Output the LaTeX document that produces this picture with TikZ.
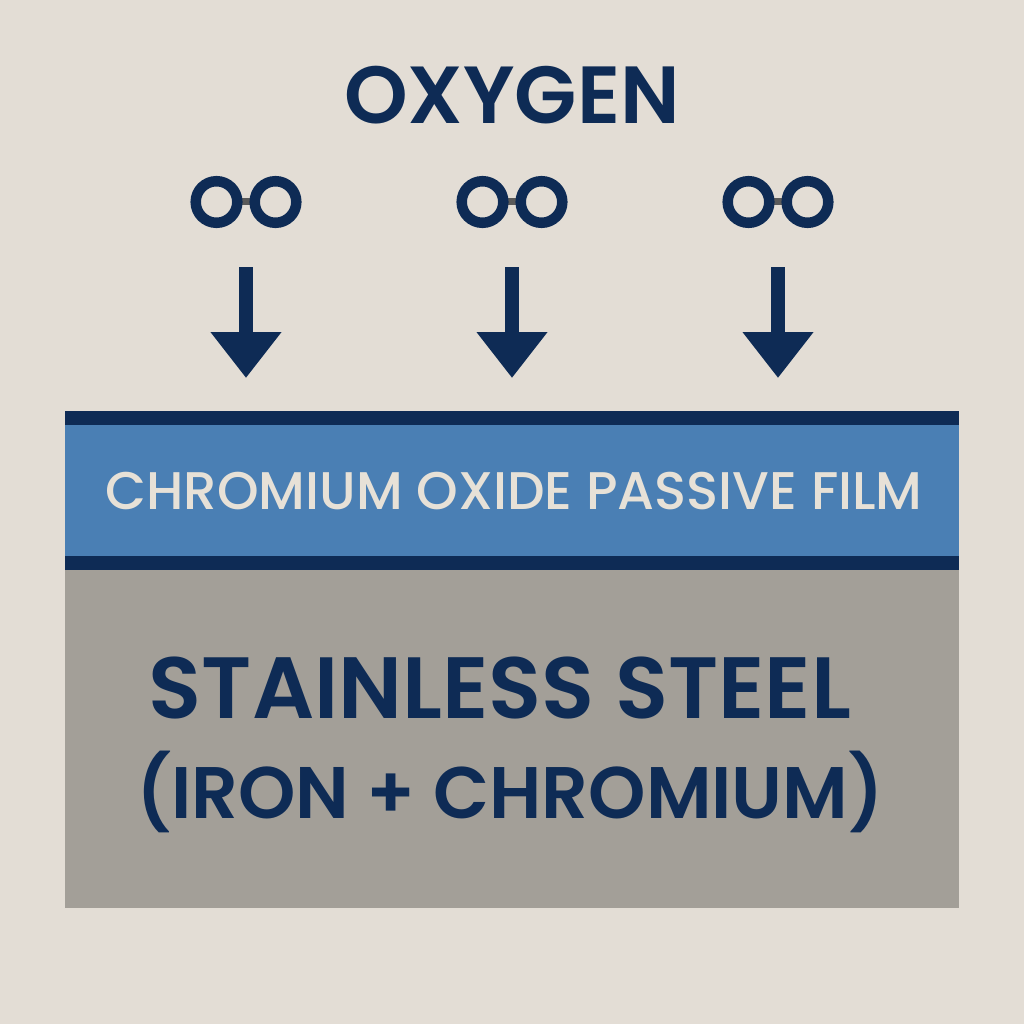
\documentclass[tikz,border=0pt]{standalone}
\usepackage{fontspec}
\setmainfont{Poppins}[BoldFont={* SemiBold}]
\newfontfamily\filmfont{Poppins Medium}
\usetikzlibrary{arrows.meta,positioning}
\definecolor{paper}{HTML}{E3DDD5}
\definecolor{navy}{HTML}{0E2B55}
\definecolor{filmblue}{HTML}{4A7FB4}
\definecolor{steelgray}{HTML}{A39F98}
\definecolor{filmtext}{HTML}{E7E1D7}
\definecolor{bondgray}{HTML}{5A5A5A}

\begin{document}
\begin{tikzpicture}[x=1pt, y=-1pt,
    ring/.style={draw=navy, line width=10.5pt},
    bond/.style={draw=bondgray, line width=7pt},
    fall/.style={draw=navy, fill=navy, line width=14pt, -{Triangle[length=46pt,width=68pt]}},
    label/.style={inner sep=0pt, anchor=base}]
    \useasboundingbox[fill=paper] (0,0) rectangle (1024,1024);

    % oxygen molecules and arrows
    \foreach \x [count=\n] in {246,512,778}
    {
    \coordinate (ml\n) at (\x-29.5,202);
    \coordinate (mr\n) at (\x+29.5,202);
    \draw[bond] ([xshift=20.8pt]ml\n) -- ([xshift=-20.8pt]mr\n);
    \draw[ring] (ml\n) circle (20.8);
    \draw[ring] (mr\n) circle (20.8);
    \coordinate (top\n) at (\x,267);
    \coordinate (tip\n) at (\x,378);
    \draw[fall] (top\n) -- (tip\n);
    }

    % layers
    \fill[steelgray] (65,570) rectangle (959,908);
    \fill[filmblue] (65,425) rectangle (959,556);
    \fill[navy] (65,411) rectangle (959,425);
    \fill[navy] (65,556) rectangle (959,570);

    % texts
    \node[label, text=navy, font=\bfseries\fontsize{81}{81}\selectfont] (oxygen) at (512,124) {OXYGEN};
    \node[label, text=filmtext, font=\filmfont\fontsize{53}{53}\selectfont] (film) at (514,509) {CHROMIUM OXIDE PASSIVE FILM};
    \node[label, text=navy, font=\bfseries\fontsize{87}{87}\selectfont] (steel) at (500,718) {STAINLESS STEEL};
    \node[label, text=navy, font=\bfseries\fontsize{73}{73}\selectfont] (alloy) at (510,818) {(IRON + CHROMIUM)};
\end{tikzpicture}
\end{document}
